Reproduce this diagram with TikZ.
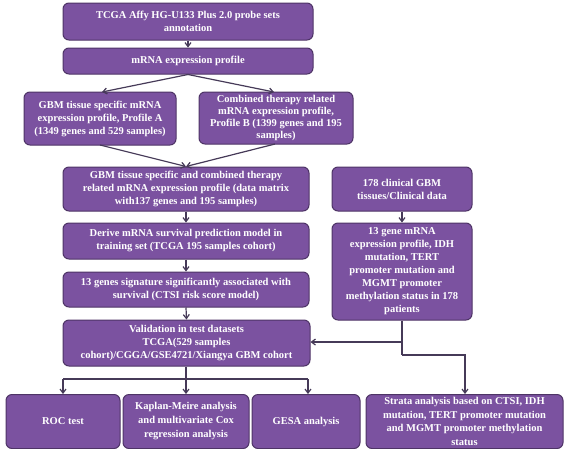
\documentclass[tikz,border=0pt]{standalone}
\usepackage{fontspec}
\setmainfont{Liberation Serif}
\usetikzlibrary{arrows.meta}
\definecolor{boxfill}{HTML}{7B52A0}
\definecolor{boxline}{HTML}{4E3466}
\definecolor{arrowc}{HTML}{463A58}
\begin{document}
\begin{tikzpicture}[x=1pt,y=-1pt,
  pbox/.style={draw=boxline,line width=1pt,fill=boxfill,rounded corners=6pt,
    text=white,font=\fontsize{10.5}{13}\selectfont\bfseries,align=center,
    inner sep=0.5pt,anchor=center},
  conn/.style={draw=arrowc,line width=1.2pt,-{Straight Barb[length=4pt,width=6pt]}},
  plain/.style={draw=arrowc,line width=1.2pt}]
\useasboundingbox (0,0) rectangle (568,448);
\node[pbox,minimum width=250pt,minimum height=37pt] (b1) at (188,21.5)
  {TCGA Affy HG-U133 Plus 2.0 probe sets\\annotation};
\node[pbox,minimum width=250pt,minimum height=26pt] (b2) at (188,61)
  {mRNA expression profile};
\node[pbox,minimum width=152pt,minimum height=53pt] (b3) at (100,118.5)
  {GBM tissue specific mRNA\\expression profile, Profile A\\(1349 genes and 529 samples)};
\node[pbox,minimum width=154pt,minimum height=52pt,font=\fontsize{10.5}{12.2}\selectfont\bfseries] (b4) at (276,118)
  {Combined therapy related\\mRNA expression profile,\\Profile B (1399 genes and 195\\samples)};
\node[pbox,minimum width=246pt,minimum height=44pt] (b5) at (186,189)
  {GBM tissue specific and  combined therapy\\related mRNA expression profile (data matrix\\with137 genes and 195 samples)};
\node[pbox,minimum width=246pt,minimum height=36pt] (b6) at (186,241)
  {Derive mRNA survival prediction model in\\training set (TCGA 195 samples cohort)};
\node[pbox,minimum width=246pt,minimum height=35pt] (b7) at (186,289.5)
  {13 genes signature significantly associated with\\survival (CTSI  risk score model)};
\node[pbox,minimum width=247pt,minimum height=46pt] (b8) at (186.5,343)
  {Validation in test datasets\\TCGA(529 samples\\cohort)/CGGA/GSE4721/Xiangya GBM cohort};
\node[pbox,minimum width=140pt,minimum height=44pt] (b9) at (402,189)
  {178 clinical GBM\\tissues/Clinical data};
\node[pbox,minimum width=140pt,minimum height=97pt] (b10) at (402,271.5)
  {13 gene mRNA\\expression profile, IDH\\mutation, TERT\\promoter mutation and\\MGMT promoter\\methylation status in 178\\patients};
\node[pbox,minimum width=114pt,minimum height=54pt] (roc) at (63,421.5) {ROC test};
\node[pbox,minimum width=126pt,minimum height=54pt,font=\fontsize{10.5}{14}\selectfont\bfseries] (km) at (186,421.5)
  {Kaplan-Meire analysis\\and multivariate Cox\\regression analysis};
\node[pbox,minimum width=108pt,minimum height=54pt] (gesa) at (306,421.5) {GESA analysis};
\node[pbox,minimum width=197pt,minimum height=54pt,font=\fontsize{10.5}{13.5}\selectfont\bfseries] (strata) at (464.5,421.5)
  {Strata analysis based on CTSI, IDH\\mutation, TERT promoter mutation\\and MGMT promoter methylation\\status};
% connectors
\coordinate (t3) at (102,92);
\coordinate (t4) at (274,92);
\coordinate (s3) at (100,145);
\coordinate (s4) at (275,144);
\draw[conn] (b1.south) -- (b2.north);
\draw[conn] (b2.south) -- (t3);
\draw[conn] (b2.south) -- (t4);
\draw[conn] (s3) -- (b5.north);
\draw[conn] (s4) -- (b5.north);
\draw[conn] (b5.south) -- (b6.north);
\draw[conn] (b6.south) -- (b7.north);
\draw[conn] (b7.south) -- (b8.north);
\draw[conn] (b9.south) -- (b10.north);
\coordinate (j1) at (402,342);
\coordinate (j2) at (402,355);
\coordinate (j3) at (465,355);
\draw[plain] (b10.south) -- (j2);
\draw[conn] (j1) -- (b8.east |- j1);
\draw[conn] (j2) -- (j3) -- (j3 |- strata.north);
\coordinate (s1) at (186,379);
\coordinate (sl) at (63,379);
\coordinate (sr) at (308,379);
\draw[plain] (b8.south -| s1) -- (s1);
\draw[plain] (sl) -- (sr);
\draw[conn] (sl) -- (roc.north -| sl);
\draw[conn] (s1) -- (km.north);
\draw[conn] (sr) -- (gesa.north -| sr);
\end{tikzpicture}
\end{document}
